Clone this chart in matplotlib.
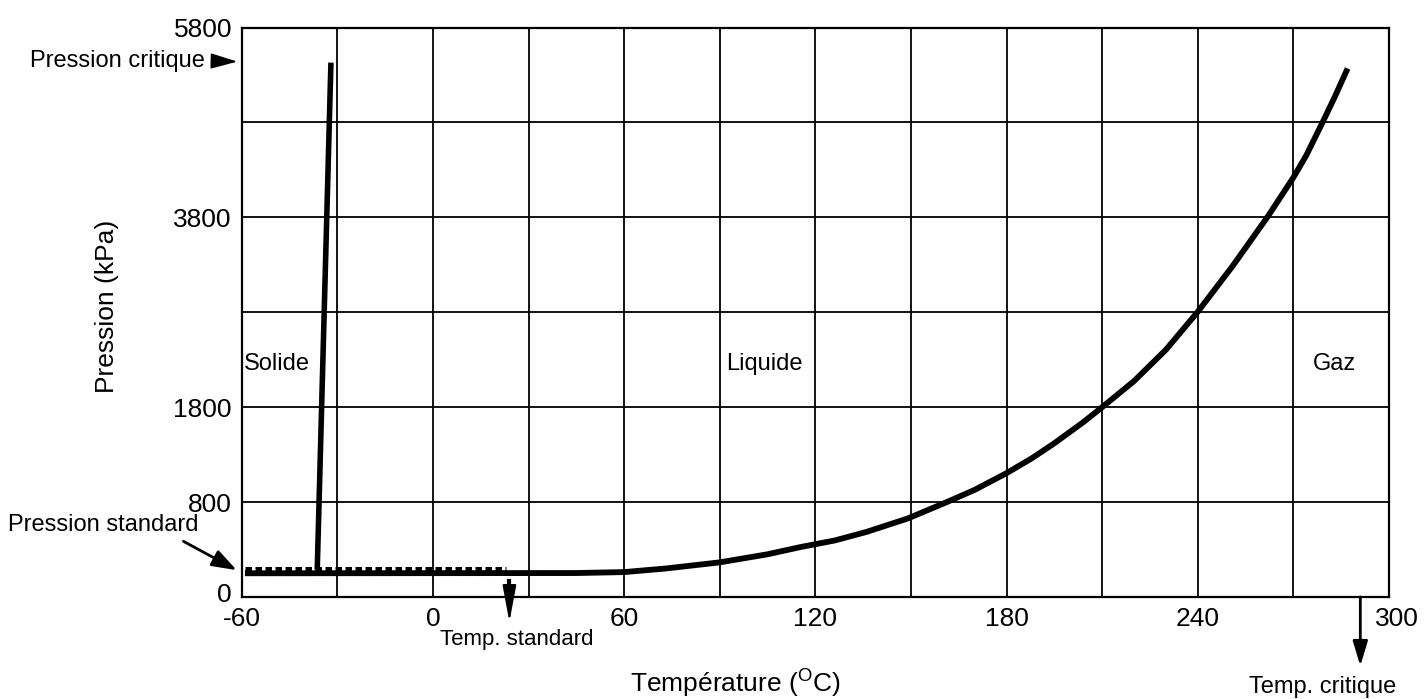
import numpy as np
import matplotlib
matplotlib.use("Agg")
import matplotlib.pyplot as plt
import matplotlib.transforms as mtrans

plt.rcParams['font.family'] = ['Liberation Sans', 'DejaVu Sans']
plt.rcParams['mathtext.fontset'] = 'custom'
plt.rcParams['mathtext.rm'] = 'Liberation Sans'

# grid levels of the (non linear) pressure axis
p_levels = [0, 800, 1800, 2800, 3800, 4800, 5800]
p_labels = [0, 800, 1800, 3800, 5800]
t_ticks = [-60, 0, 60, 120, 180, 240, 300]

# vapour pressure curve (deg C, kPa)
t_vap = [-59, 45, 60, 73, 90, 105, 115, 120, 126, 136, 149, 161, 170, 180,
         188, 195, 204, 210, 220, 230, 240, 251, 262, 270, 274, 279, 283, 287]
p_vap = [200, 202, 210, 240, 292, 360, 419, 445, 476, 548, 662, 797, 929, 1105,
         1263, 1420, 1640, 1800, 2075, 2405, 2805, 3290, 3810, 4220, 4450, 4790,
         5070, 5368]

# melting line
t_fus = [-36.3, -32.0]
p_fus = [230, 5430]

# standard pressure (dotted) and standard / critical temperatures
t_std_line = [-59, 23]
p_std_line = [238, 238]
t_std = 24
t_crit = 291
p_crit = 5440

W, H = 1427, 699
fig = plt.figure(figsize=(W / 100, H / 100), dpi=100)
ax = fig.add_axes([241.7 / W, 1 - 597 / H, (1389 - 241.7) / W, (597 - 27.5) / H])

idx = np.arange(len(p_levels))
def fwd(y):
    return np.interp(y, p_levels, idx)
def inv(y):
    return np.interp(y, idx, p_levels)
ax.set_yscale('function', functions=(fwd, inv))

ax.set_xlim(-60, 300)
ax.set_ylim(0, 5800)

ax.set_xticks(t_ticks)
ax.set_xticks(np.arange(-30, 300, 60), minor=True)
ax.set_yticks(p_labels)
ax.set_yticks([2800, 4800], minor=True)
ax.set_yticklabels([str(v) for v in p_labels])
ax.set_xticklabels([str(v) for v in t_ticks])
ax.tick_params(which='both', length=0, labelsize=19)
ax.tick_params(axis='x', pad=7)
ax.tick_params(axis='y', pad=7)
ax.grid(True, which='both', color='black', linewidth=1.3)
for s in ax.spines.values():
    s.set_linewidth(1.6)

# small offsets of some tick labels, as in the original
lab300 = ax.get_xticklabels()[-1]
lab300.set_transform(lab300.get_transform() + mtrans.ScaledTranslation(6 / 72, 0, fig.dpi_scale_trans))
lab0 = ax.get_yticklabels()[0]
lab0.set_transform(lab0.get_transform() + mtrans.ScaledTranslation(0, 3 / 72, fig.dpi_scale_trans))

# curves
ax.plot(t_vap, p_vap, color='black', linewidth=4.2, solid_capstyle='butt',
        solid_joinstyle='round', zorder=5)
ax.plot(t_fus, p_fus, color='black', linewidth=4.0, solid_capstyle='butt', zorder=5)
ax.plot(t_std_line, p_std_line, color='black', linewidth=3.6,
        linestyle=(0, (1.3, 0.7)), dash_capstyle='butt', zorder=4)
ax.plot([t_std, t_std], [150, 0], color='black', linewidth=3.0,
        linestyle=(0, (1.5, 1.2)), dash_capstyle='butt', clip_on=False, zorder=4)

# region labels
ax.text(-59.3, 2250, 'Solide', fontsize=17, va='center', ha='left')
ax.text(92, 2250, 'Liquide', fontsize=17, va='center', ha='left')
ax.text(276, 2250, 'Gaz', fontsize=17, va='center', ha='left')

# annotations outside the axes
fig.text(30 / W, 1 - 61 / H, 'Pression critique', fontsize=17, va='center', ha='left')
ax.annotate('', xy=(-60.5, p_crit), xycoords='data',
            xytext=(211, H - 61), textcoords='figure pixels',
            arrowprops=dict(arrowstyle='-|>,head_length=1.1,head_width=0.32',
                            mutation_scale=15, color='black', lw=1.2),
            annotation_clip=False)

fig.text(8 / W, 1 - 525 / H, 'Pression standard', fontsize=17, va='center', ha='left')
ax.annotate('', xy=(-60.8, 215), xycoords='data',
            xytext=(181, H - 540), textcoords='figure pixels',
            arrowprops=dict(arrowstyle='-|>,head_length=1.0,head_width=0.35',
                            mutation_scale=15, color='black', lw=2.0),
            annotation_clip=False)

ax.annotate('', xy=(t_std, H - 622), xycoords=('data', 'figure pixels'),
            xytext=(t_std, H - 600), textcoords=('data', 'figure pixels'),
            arrowprops=dict(arrowstyle='-|>,head_length=1.5,head_width=0.28',
                            mutation_scale=15, color='black', lw=1.5,
                            shrinkA=0, shrinkB=0),
            annotation_clip=False)
fig.text(517 / W, 1 - 639 / H, 'Temp. standard', fontsize=16, va='center', ha='center')

ax.annotate('', xy=(t_crit, H - 666), xycoords=('data', 'figure pixels'),
            xytext=(t_crit, H - 597), textcoords=('data', 'figure pixels'),
            arrowprops=dict(arrowstyle='-|>,head_length=1.0,head_width=0.3',
                            mutation_scale=15, color='black', lw=2.0,
                            shrinkA=0, shrinkB=0),
            annotation_clip=False)
fig.text(1323 / W, 1 - 687 / H, 'Temp. critique', fontsize=17, va='center', ha='center')

# axis titles
fig.text(107 / W, 1 - 306 / H, 'Pression (kPa)', fontsize=19, rotation=90,
         va='center', ha='center')
fig.text(735 / W, 1 - 683 / H, r'Température ($^{\mathrm{O}}$C)', fontsize=19,
         va='center', ha='center')

fig.savefig('out.png', dpi=100)
